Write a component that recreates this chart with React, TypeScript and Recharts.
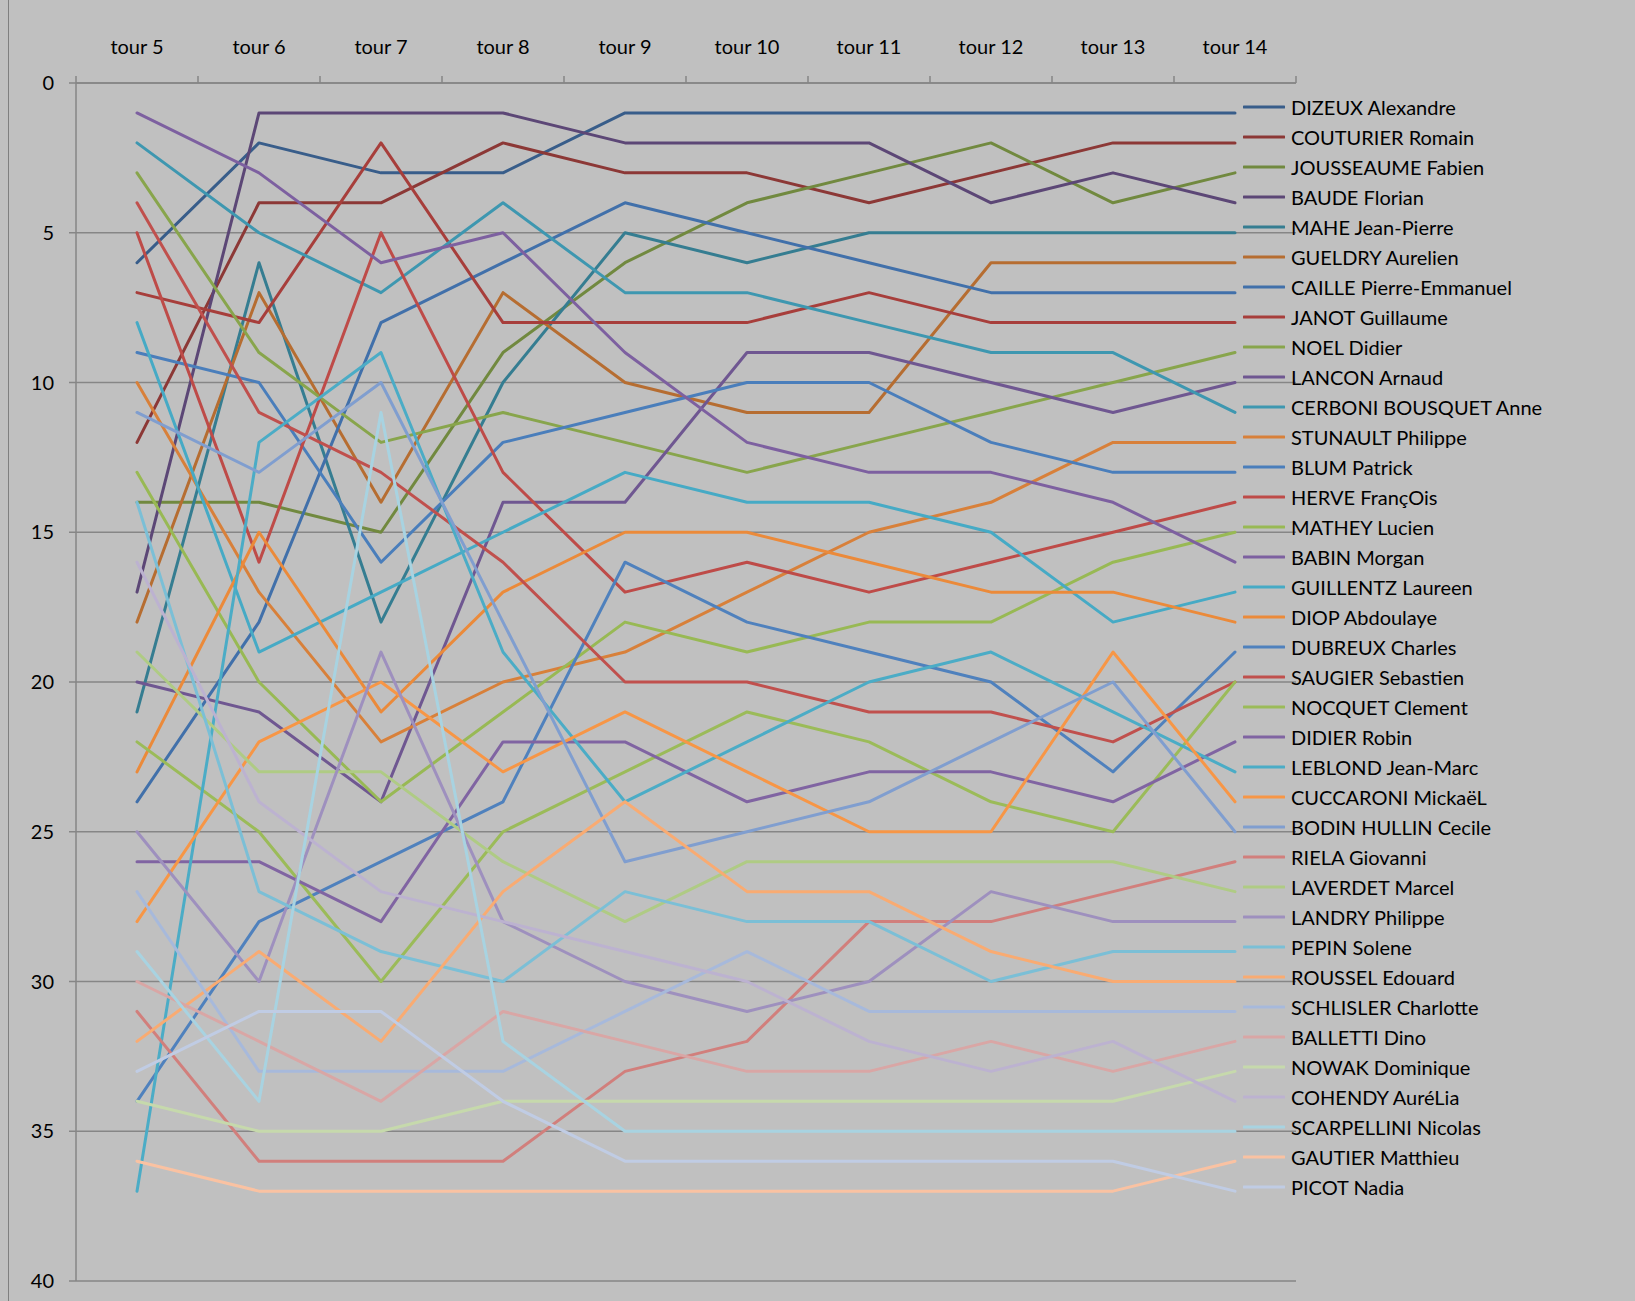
import React from "react";
import { LineChart, Line, XAxis, YAxis, CartesianGrid, Legend } from "recharts";

const TOURS = ["tour 5", "tour 6", "tour 7", "tour 8", "tour 9", "tour 10", "tour 11", "tour 12", "tour 13", "tour 14"];
const Y_TICKS = [0, 5, 10, 15, 20, 25, 30, 35, 40];

const dizeux = [6, 2, 3, 3, 1, 1, 1, 1, 1, 1];
const couturier = [12, 4, 4, 2, 3, 3, 4, 3, 2, 2];
const jousseaume = [14, 14, 15, 9, 6, 4, 3, 2, 4, 3];
const baude = [17, 1, 1, 1, 2, 2, 2, 4, 3, 4];
const mahe = [21, 6, 18, 10, 5, 6, 5, 5, 5, 5];
const gueldry = [18, 7, 14, 7, 10, 11, 11, 6, 6, 6];
const caille = [24, 18, 8, 6, 4, 5, 6, 7, 7, 7];
const janot = [7, 8, 2, 8, 8, 8, 7, 8, 8, 8];
const noel = [3, 9, 12, 11, 12, 13, 12, 11, 10, 9];
const lancon = [20, 21, 24, 14, 14, 9, 9, 10, 11, 10];
const cerboni = [2, 5, 7, 4, 7, 7, 8, 9, 9, 11];
const stunault = [10, 17, 22, 20, 19, 17, 15, 14, 12, 12];
const blum = [9, 10, 16, 12, 11, 10, 10, 12, 13, 13];
const herve = [5, 16, 5, 13, 17, 16, 17, 16, 15, 14];
const mathey = [13, 20, 24, 21, 18, 19, 18, 18, 16, 15];
const babin = [1, 3, 6, 5, 9, 12, 13, 13, 14, 16];
const guillentz = [8, 19, 17, 15, 13, 14, 14, 15, 18, 17];
const diop = [23, 15, 21, 17, 15, 15, 16, 17, 17, 18];
const dubreux = [34, 28, 26, 24, 16, 18, 19, 20, 23, 19];
const saugier = [4, 11, 13, 16, 20, 20, 21, 21, 22, 20];
const nocquet = [22, 25, 30, 25, 23, 21, 22, 24, 25, 20];
const didier = [26, 26, 28, 22, 22, 24, 23, 23, 24, 22];
const leblond = [37, 12, 9, 19, 24, 22, 20, 19, 21, 23];
const cuccaroni = [28, 22, 20, 23, 21, 23, 25, 25, 19, 24];
const bodin = [11, 13, 10, 18, 26, 25, 24, 22, 20, 25];
const riela = [31, 36, 36, 36, 33, 32, 28, 28, 27, 26];
const laverdet = [19, 23, 23, 26, 28, 26, 26, 26, 26, 27];
const landry = [25, 30, 19, 28, 30, 31, 30, 27, 28, 28];
const pepin = [14, 27, 29, 30, 27, 28, 28, 30, 29, 29];
const roussel = [32, 29, 32, 27, 24, 27, 27, 29, 30, 30];
const schlisler = [27, 33, 33, 33, 31, 29, 31, 31, 31, 31];
const balletti = [30, 32, 34, 31, 32, 33, 33, 32, 33, 32];
const nowak = [34, 35, 35, 34, 34, 34, 34, 34, 34, 33];
const cohendy = [16, 24, 27, 28, 29, 30, 32, 33, 32, 34];
const scarpellini = [29, 34, 11, 32, 35, 35, 35, 35, 35, 35];
const gautier = [36, 37, 37, 37, 37, 37, 37, 37, 37, 36];
const picot = [33, 31, 31, 34, 36, 36, 36, 36, 36, 37];

const NAMES = [
  "DIZEUX Alexandre", "COUTURIER Romain", "JOUSSEAUME Fabien", "BAUDE Florian", "MAHE Jean-Pierre",
  "GUELDRY Aurelien", "CAILLE Pierre-Emmanuel", "JANOT Guillaume", "NOEL Didier", "LANCON Arnaud",
  "CERBONI BOUSQUET Anne", "STUNAULT Philippe", "BLUM Patrick", "HERVE FrançOis", "MATHEY Lucien",
  "BABIN Morgan", "GUILLENTZ Laureen", "DIOP Abdoulaye", "DUBREUX Charles", "SAUGIER Sebastien",
  "NOCQUET Clement", "DIDIER Robin", "LEBLOND Jean-Marc", "CUCCARONI MickaëL", "BODIN HULLIN Cecile",
  "RIELA Giovanni", "LAVERDET Marcel", "LANDRY Philippe", "PEPIN Solene", "ROUSSEL Edouard",
  "SCHLISLER Charlotte", "BALLETTI Dino", "NOWAK Dominique", "COHENDY AuréLia", "SCARPELLINI Nicolas",
  "GAUTIER Matthieu", "PICOT Nadia",
];

const VALUES = [
  dizeux, couturier, jousseaume, baude, mahe, gueldry, caille, janot, noel, lancon,
  cerboni, stunault, blum, herve, mathey, babin, guillentz, diop, dubreux, saugier,
  nocquet, didier, leblond, cuccaroni, bodin, riela, laverdet, landry, pepin, roussel,
  schlisler, balletti, nowak, cohendy, scarpellini, gautier, picot,
];

const COLORS = [
  "#385D8A", "#8C3836", "#71893F", "#5C4776", "#357D91", "#B66D31",
  "#4170AA", "#A73E3B", "#88A54C", "#6F5791", "#3E97B0", "#D8803A",
  "#4A7EBB", "#BE4B48", "#98B954", "#7D60A0", "#46AAC5", "#EB8A3A",
  "#4F81BD", "#C0504D", "#9BBB59", "#8064A2", "#4BACC6", "#F79646",
  "#809ECF", "#D17F7C", "#AFCB84", "#9E90BE", "#7BBFD6", "#F9AB72",
  "#A7B9DB", "#D9A6A5", "#C6D9AC", "#BCB2D0", "#A8D3E1", "#FAC2A2",
  "#C0CCE4",
];

const data = TOURS.map((t, i) => {
  const row: Record<string, string | number> = { tour: t };
  VALUES.forEach((v, k) => {
    row["s" + k] = v[i];
  });
  return row;
});

const W = 1635;
const H = 1301;
const PLOT_LEFT = 76;
const PLOT_TOP = 83;
const PLOT_RIGHT = 1296;
const PLOT_BOTTOM = 1281;
const HALF_BAND = (PLOT_RIGHT - PLOT_LEFT) / TOURS.length / 2;
const AXIS_COLOR = "#868686";
const FONT = "Lato, 'Open Sans', sans-serif";

function XTick(props: any) {
  const { x, y, payload, index } = props;
  return (
    <g>
      <text x={x} y={y - 37} textAnchor="middle" dominantBaseline="central" fontSize={20} fill="#000" fontFamily={FONT}>
        {payload.value}
      </text>
      <line x1={x - HALF_BAND} x2={x - HALF_BAND} y1={y - 7} y2={y} stroke={AXIS_COLOR} strokeWidth={1.5} />
      {index === TOURS.length - 1 ? (
        <line x1={x + HALF_BAND} x2={x + HALF_BAND} y1={y - 7} y2={y} stroke={AXIS_COLOR} strokeWidth={1.5} />
      ) : null}
    </g>
  );
}

function LegendContent(props: any) {
  const payload = [...(props.payload || [])].sort(
    (a: any, b: any) => NAMES.indexOf(a.value) - NAMES.indexOf(b.value)
  );
  return (
    <div style={{ fontFamily: FONT, fontSize: 20, color: "#000" }}>
      {payload.map((p: any) => (
        <div key={p.value} style={{ height: 30, display: "flex", alignItems: "center", whiteSpace: "nowrap" }}>
          <svg width={42} height={6} style={{ marginRight: 6, flex: "none" }}>
            <line x1={1} x2={41} y1={3} y2={3} stroke={p.color} strokeWidth={3} strokeLinecap="round" />
          </svg>
          <span>{p.value}</span>
        </div>
      ))}
    </div>
  );
}

export default function App() {
  return (
    <div style={{ position: "relative", width: W, height: H, background: "#C0C0C0", overflow: "hidden" }}>
      <style>{`html,body{margin:0;padding:0;background:#C0C0C0;}`}</style>
      <div style={{ position: "absolute", left: 8, top: 0, width: 1, height: H, background: "#7f7f7f" }} />
      <LineChart
        width={W}
        height={H}
        data={data}
        margin={{ top: PLOT_TOP - 50, left: PLOT_LEFT - 60, right: W - PLOT_RIGHT, bottom: H - PLOT_BOTTOM }}
        style={{ fontFamily: FONT }}
      >
        <CartesianGrid vertical={false} stroke={AXIS_COLOR} strokeWidth={1.5} />
        <XAxis
          dataKey="tour"
          orientation="top"
          height={50}
          padding={{ left: HALF_BAND, right: HALF_BAND }}
          axisLine={{ stroke: AXIS_COLOR, strokeWidth: 1.5 }}
          tickLine={false}
          tickSize={0}
          tickMargin={0}
          interval={0}
          tick={<XTick />}
        />
        <YAxis
          reversed
          type="number"
          domain={[0, 40]}
          ticks={Y_TICKS}
          interval={0}
          width={60}
          tickSize={7}
          tickMargin={15}
          axisLine={{ stroke: AXIS_COLOR, strokeWidth: 1.5 }}
          tickLine={{ stroke: AXIS_COLOR, strokeWidth: 1.5 }}
          tick={{ fill: "#000", fontSize: 20, fontFamily: FONT }}
        />
        <Legend
          layout="vertical"
          verticalAlign="middle"
          align="center"
          content={<LegendContent />}
          wrapperStyle={{ position: "absolute", left: 1243, top: 92, width: 380, height: 1120 }}
        />
        {VALUES.map((_, k) => (
          <Line
            key={k}
            type="linear"
            dataKey={"s" + k}
            name={NAMES[k]}
            stroke={COLORS[k]}
            strokeWidth={3}
            strokeLinejoin="round"
            strokeLinecap="round"
            dot={false}
            activeDot={false}
            isAnimationActive={false}
          />
        ))}
      </LineChart>
    </div>
  );
}
